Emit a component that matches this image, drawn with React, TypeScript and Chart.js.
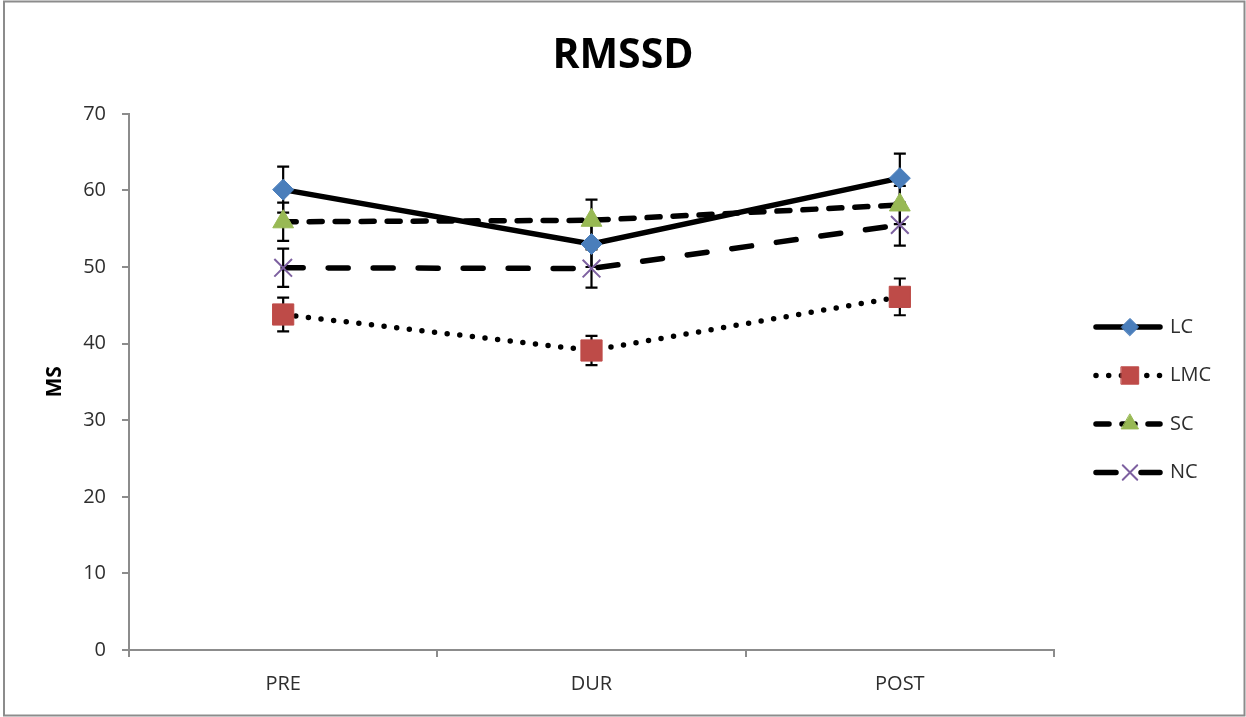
import React, { useEffect, useRef } from 'react';
import { Chart, registerables } from 'chart.js';
import { drawPoint } from 'chart.js/helpers';

Chart.register(...registerables);

const categories = ['PRE', 'DUR', 'POST'];
const seriesNames = ['LC', 'LMC', 'SC', 'NC'];
const lcValues = [60.1, 53.0, 61.6];
const lcErrors = [3.0, 3.0, 3.2];
const lmcValues = [43.8, 39.1, 46.1];
const lmcErrors = [2.2, 1.9, 2.4];
const scValues = [55.9, 56.1, 58.1];
const scErrors = [2.5, 2.7, 2.5];
const ncValues = [49.9, 49.8, 55.5];
const ncErrors = [2.5, 2.5, 2.7];
const yMin = 0;
const yMax = 70;
const yStep = 10;
const chartTitle = 'RMSSD';

const FONT = "'Open Sans', 'Noto Sans', sans-serif";
const AXIS_GRAY = '#8c8c8c';
const TEXT = '#2e2e2e';

const allErrors = [lcErrors, lmcErrors, scErrors, ncErrors];

const errorBarPlugin = {
  id: 'errorBars',
  beforeDatasetsDraw(chart: any) {
    const ctx = chart.ctx;
    const ys = chart.scales.y;
    ctx.save();
    ctx.strokeStyle = '#000000';
    ctx.lineWidth = 2.2;
    ctx.setLineDash([]);
    ctx.lineCap = 'butt';
    chart.data.datasets.forEach((ds: any, i: number) => {
      const meta = chart.getDatasetMeta(i);
      const errs = allErrors[i];
      meta.data.forEach((pt: any, j: number) => {
        const v = ds.data[j];
        const e = errs[j];
        const top = ys.getPixelForValue(v + e);
        const bot = ys.getPixelForValue(v - e);
        ctx.beginPath();
        ctx.moveTo(pt.x, top);
        ctx.lineTo(pt.x, bot);
        ctx.moveTo(pt.x - 6, top);
        ctx.lineTo(pt.x + 6, top);
        ctx.moveTo(pt.x - 6, bot);
        ctx.lineTo(pt.x + 6, bot);
        ctx.stroke();
      });
    });
    ctx.restore();
  },
};

const legendPlugin = {
  id: 'customLegend',
  afterDraw(chart: any) {
    const ctx = chart.ctx;
    ctx.save();
    chart.data.datasets.forEach((ds: any, i: number) => {
      const y = 327 + i * 48.5;
      ctx.beginPath();
      ctx.strokeStyle = ds.borderColor;
      ctx.lineWidth = ds.borderWidth;
      ctx.lineCap = 'round';
      ctx.setLineDash(ds.borderDash || []);
      ctx.moveTo(1096, y);
      ctx.lineTo(1160, y);
      ctx.stroke();
      ctx.setLineDash([]);
      ctx.fillStyle = ds.pointBackgroundColor;
      ctx.strokeStyle = ds.pointBorderColor;
      ctx.lineWidth = ds.pointBorderWidth;
      drawPoint(ctx, { pointStyle: ds.pointStyle, radius: ds.pointRadius * 0.82, borderWidth: ds.pointBorderWidth, rotation: 0 }, 1130, y);
      ctx.fillStyle = TEXT;
      ctx.font = `20px ${FONT}`;
      ctx.textBaseline = 'middle';
      ctx.textAlign = 'left';
      ctx.fillText(seriesNames[i], 1170, y);
    });
    ctx.restore();
  },
};

const frameTitlePlugin = {
  id: 'frameTitle',
  afterDraw(chart: any) {
    const ctx = chart.ctx;
    ctx.save();
    ctx.strokeStyle = AXIS_GRAY;
    ctx.lineWidth = 2;
    ctx.setLineDash([]);
    ctx.strokeRect(4, 1.5, 1240.5, 714);
    ctx.fillStyle = '#000000';
    ctx.font = `bold 41px ${FONT}`;
    ctx.textAlign = 'center';
    ctx.textBaseline = 'middle';
    ctx.fillText(chartTitle, chart.width / 2, 56);
    ctx.restore();
  },
};

export default function App() {
  const ref = useRef<HTMLCanvasElement | null>(null);

  useEffect(() => {
    if (!ref.current) return;
    const chart = new Chart(ref.current, {
      type: 'line',
      data: {
        labels: categories,
        datasets: [
          {
            label: seriesNames[0],
            data: lcValues,
            borderColor: '#000000',
            borderWidth: 5.5,
            borderDash: [],
            pointStyle: 'rectRot',
            pointRadius: 10.5,
            pointBackgroundColor: '#4a7ebb',
            pointBorderColor: '#4a7ebb',
            pointBorderWidth: 1,
            tension: 0,
          },
          {
            label: seriesNames[1],
            data: lmcValues,
            borderColor: '#000000',
            borderWidth: 5.5,
            borderDash: [0, 12.7],
            borderCapStyle: 'round',
            pointStyle: 'rect',
            pointRadius: 15,
            pointBackgroundColor: '#be4b48',
            pointBorderColor: '#be4b48',
            pointBorderWidth: 1,
            tension: 0,
          },
          {
            label: seriesNames[2],
            data: scValues,
            borderColor: '#000000',
            borderWidth: 5.5,
            borderDash: [13, 13],
            borderCapStyle: 'round',
            pointStyle: 'triangle',
            pointRadius: 12,
            pointBackgroundColor: '#98b954',
            pointBorderColor: '#98b954',
            pointBorderWidth: 1,
            tension: 0,
          },
          {
            label: seriesNames[3],
            data: ncValues,
            borderColor: '#000000',
            borderWidth: 5.5,
            borderDash: [20, 25],
            borderCapStyle: 'round',
            pointStyle: 'crossRot',
            pointRadius: 12.5,
            pointBackgroundColor: '#7d60a0',
            pointBorderColor: '#7d60a0',
            pointBorderWidth: 2,
            tension: 0,
          },
        ],
      },
      options: {
        responsive: false,
        animation: false,
        devicePixelRatio: 1,
        layout: { padding: { left: 0, right: 192, top: 0, bottom: 0 } },
        plugins: {
          legend: { display: false },
          tooltip: { enabled: false },
          title: {
            display: true,
            text: chartTitle,
            color: 'rgba(0,0,0,0)',
            font: { family: FONT, size: 39, weight: 'bold' },
            padding: { top: 31, bottom: 36 },
          },
        },
        scales: {
          x: {
            type: 'category',
            offset: true,
            grid: {
              offset: true,
              drawOnChartArea: false,
              drawTicks: true,
              tickLength: 7,
              color: AXIS_GRAY,
              lineWidth: 2,
            },
            border: { display: true, color: AXIS_GRAY, width: 2 },
            ticks: {
              color: TEXT,
              font: { family: FONT, size: 20 },
              padding: 15,
              maxRotation: 0,
            },
            afterFit: (scale: any) => {
              scale.height = 67;
            },
          },
          y: {
            min: yMin,
            max: yMax,
            grid: {
              drawOnChartArea: false,
              drawTicks: true,
              tickLength: 7,
              color: AXIS_GRAY,
              lineWidth: 2,
            },
            border: { display: true, color: AXIS_GRAY, width: 2 },
            ticks: {
              stepSize: yStep,
              color: TEXT,
              font: { family: FONT, size: 20 },
              padding: 16,
            },
            title: {
              display: true,
              text: 'MS',
              color: '#000000',
              font: { family: FONT, size: 21, weight: 'bold' },
              padding: { top: 42, bottom: 0 },
            },
            afterFit: (scale: any) => {
              scale.width = 129;
            },
          },
        },
      },
      plugins: [errorBarPlugin, legendPlugin, frameTitlePlugin],
    });
    return () => chart.destroy();
  }, []);

  return (
    <div style={{ position: 'absolute', left: 0, top: 0, width: 1246, height: 717, background: '#ffffff' }}>
      <canvas ref={ref} width={1246} height={717} style={{ display: 'block' }} />
    </div>
  );
}
